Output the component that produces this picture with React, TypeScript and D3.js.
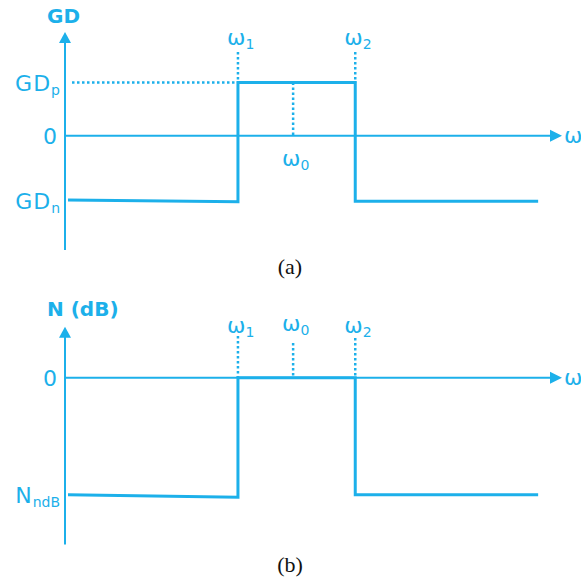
import React from 'react';
import * as d3 from 'd3';

// frequency marks (axis units, 0 = origin of the ω axis)
const omegaNames = ['1', '0', '2'];
const omegaValues = [3.48, 4.59, 5.84];

// panel (a): group delay step
const gdStepX = [0.06, 3.48, 3.48, 5.84, 5.84, 9.52];
const gdStepY = [-1.21, -1.24, 1, 1, -1.23, -1.23];
const gdTicks = [
  { main: 'GD', sub: 'p', value: 1 },
  { main: '0', sub: '', value: 0 },
  { main: 'GD', sub: 'n', value: -1.22 },
];

// panel (b): attenuation step
const nStepX = [0.06, 3.48, 3.48, 5.84, 5.84, 9.52];
const nStepY = [-0.99, -1.01, 0, 0, -0.99, -0.99];
const nTicks = [
  { main: '0', sub: '', value: 0 },
  { main: 'N', sub: 'ndB', value: -0.99 },
];

const BLUE = '#1cb0ea';
const FONT = '"DejaVu Sans", sans-serif';

const x = d3.scaleLinear().domain([0, 10]).range([65, 562]);

type Tick = { main: string; sub: string; value: number };

const Panel = ({ y, stepX, stepY, ticks, title, titleY, omegaRow, dotTop, dotBottom, caption, captionY, yTop, yBottom }: any) => {
  const pts: [number, number][] = stepX.map((v: number, i: number) => [x(v), y(stepY[i])]);
  const line = d3.line()(pts) as string;
  const y0 = y(0);
  const axisTop = y(yTop);
  const axisBottom = y(yBottom);
  return (
    <g>
      {/* axes */}
      <line x1={x(0)} x2={x(0)} y1={axisTop + 9} y2={axisBottom} stroke={BLUE} strokeWidth={2} />
      <path d={`M${x(0) - 6},${axisTop + 11}L${x(0)},${axisTop}L${x(0) + 6},${axisTop + 11}Z`} fill={BLUE} />
      <line x1={x(0)} x2={x(10) - 10} y1={y0} y2={y0} stroke={BLUE} strokeWidth={2} />
      <path d={`M${x(10) - 12},${y0 - 6}L${x(10)},${y0}L${x(10) - 12},${y0 + 6}Z`} fill={BLUE} />
      <text x={x(10) + 2} y={y0 + 7} fill={BLUE} fontFamily={FONT} fontSize={22}>ω</text>

      {/* title */}
      <text x={x(0) - 18} y={titleY} fill={BLUE} fontFamily={FONT} fontSize={20} fontWeight={700}>{title}</text>

      {/* tick labels */}
      {ticks.map((t: Tick, i: number) => (
        <text key={i} x={t.sub ? 60 : 58} y={y(t.value) + 8} textAnchor="end" fill={BLUE} fontFamily={FONT} fontSize={22} letterSpacing={1}>
          {t.main}
          {t.sub && <tspan fontSize={14} dy={4} letterSpacing={0}>{t.sub}</tspan>}
        </text>
      ))}

      {/* dotted guides */}
      {omegaValues.map((v, i) => (
        <line key={'d' + i} x1={x(v)} x2={x(v)} y1={dotTop[i]} y2={dotBottom[i]} stroke={BLUE} strokeWidth={2.5} strokeDasharray="2.5,2.5" />
      ))}

      {/* omega labels */}
      {omegaValues.map((v, i) => (
        <text key={'o' + i} x={x(v) - 11} y={omegaRow[i]} fill={BLUE} fontFamily={FONT} fontSize={22}>
          ω<tspan fontSize={14} dy={4}>{omegaNames[i]}</tspan>
        </text>
      ))}

      <path d={line} fill="none" stroke={BLUE} strokeWidth={3} />

      <text x={290} y={captionY} textAnchor="middle" fontFamily='"Liberation Serif", serif' fontSize={22} fill="#111">{caption}</text>
    </g>
  );
};

export default function App() {
  const yA = d3.scaleLinear().domain([1, 0]).range([82.5, 135.7]);
  const yB = d3.scaleLinear().domain([0, -1]).range([377.7, 496]);
  return (
    <svg width={581} height={588} style={{ position: 'absolute', left: 0, top: 0 }}>
      <rect width={581} height={588} fill="#fff" />
      {/* horizontal dotted GDp guide */}
      <line x1={72} x2={x(omegaValues[0])} y1={yA(1)} y2={yA(1)} stroke={BLUE} strokeWidth={2.5} strokeDasharray="2.5,2.5" />
      <Panel
        y={yA}
        stepX={gdStepX}
        stepY={gdStepY}
        ticks={gdTicks}
        title="GD"
        titleY={23}
        yTop={1.95}
        yBottom={-2.15}
        omegaRow={[45, 166, 45]}
        dotTop={[52, yA(1), 52]}
        dotBottom={[yA(1), yA(0), yA(1)]}
        caption="(a)"
        captionY={274}
      />
      <Panel
        y={yB}
        stepX={nStepX}
        stepY={nStepY}
        ticks={nTicks}
        title="N (dB)"
        titleY={316}
        yTop={0.43}
        yBottom={-1.41}
        omegaRow={[333, 331, 333]}
        dotTop={[336, 343, 338]}
        dotBottom={[yB(0), yB(0), yB(0)]}
        caption="(b)"
        captionY={572}
      />
    </svg>
  );
}
